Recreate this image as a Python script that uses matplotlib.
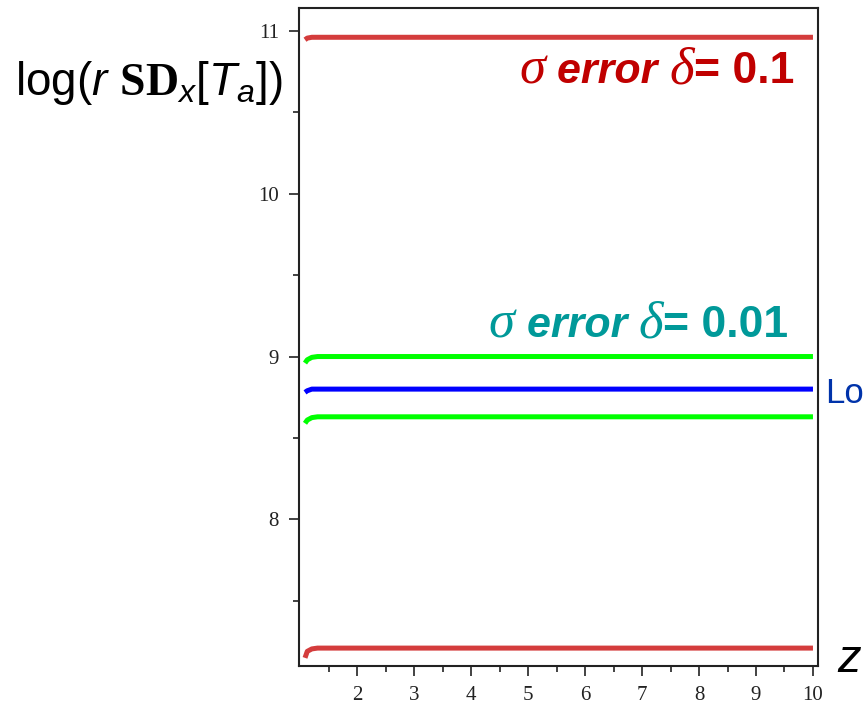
import matplotlib
matplotlib.use("Agg")
import matplotlib.pyplot as plt
from matplotlib.ticker import FixedLocator
from matplotlib.offsetbox import TextArea, HPacker, AnnotationBbox

# mathtext fonts for the y label
plt.rcParams['mathtext.fontset'] = 'custom'
plt.rcParams['mathtext.rm'] = 'Liberation Sans'
plt.rcParams['mathtext.it'] = 'Liberation Sans:italic'
plt.rcParams['mathtext.bf'] = 'Liberation Serif:bold'

# data
z = [1.08, 1.12, 1.2, 1.3, 10.0]
red_high = [10.945, 10.955, 10.96, 10.96, 10.96]
green_high = [8.96, 8.98, 8.995, 9.0, 9.0]
blue_mid = [8.78, 8.79, 8.80, 8.80, 8.80]
green_low = [8.59, 8.61, 8.625, 8.63, 8.63]
red_low = [7.15, 7.19, 7.205, 7.21, 7.21]

x_ticks = [2, 3, 4, 5, 6, 7, 8, 9, 10]
x_minor = [1.5, 2.5, 3.5, 4.5, 5.5, 6.5, 7.5, 8.5, 9.5]
y_ticks = [8, 9, 10, 11]
y_minor = [7.5, 8.5, 9.5, 10.5]

fig = plt.figure(figsize=(8.68, 7.05), dpi=100)
ax = fig.add_axes([0.3445, 0.0553, 0.598, 0.9334])

red = '#d43c3c'
green = '#00ff00'
blue = '#0000ff'
ax.plot(z, red_high, color=red, lw=3.6, solid_capstyle='butt')
ax.plot(z, green_high, color=green, lw=3.6, solid_capstyle='butt')
ax.plot(z, blue_mid, color=blue, lw=3.6, solid_capstyle='butt')
ax.plot(z, green_low, color=green, lw=3.6, solid_capstyle='butt')
ax.plot(z, red_low, color=red, lw=3.6, solid_capstyle='butt')

ax.set_xlim(0.975, 10.09)
ax.set_ylim(7.10, 11.14)
ax.set_xticks(x_ticks)
ax.set_yticks(y_ticks)
ax.xaxis.set_minor_locator(FixedLocator(x_minor))
ax.yaxis.set_minor_locator(FixedLocator(y_minor))
ax.tick_params(which='major', direction='out', length=7.5, width=1.2,
               labelsize=15, pad=7, colors='#222222')
ax.tick_params(which='minor', direction='out', length=4.5, width=1.2,
               colors='#222222')
for lab in ax.get_xticklabels() + ax.get_yticklabels():
    lab.set_fontfamily('Liberation Serif')
for sp in ax.spines.values():
    sp.set_linewidth(1.5)
    sp.set_color('#222222')


def label(parts, color, xy):
    boxes = [TextArea(t, textprops=dict(color=color, size=sz, family=fam,
                                        style=st, weight=wt))
             for t, sz, fam, st, wt in parts]
    pack = HPacker(children=boxes, align='baseline', pad=0, sep=0)
    ab = AnnotationBbox(pack, xy, xycoords='axes fraction', frameon=False,
                        box_alignment=(1, 0), pad=0)
    ax.add_artist(ab)


label([('σ', 38, 'Liberation Serif', 'italic', 'normal'),
       (' error ', 31, 'Liberation Sans', 'italic', 'bold'),
       ('δ', 38, 'Liberation Serif', 'italic', 'normal'),
       ('= 0.1', 32, 'Liberation Sans', 'normal', 'bold')], '#c00000', (0.955, 0.869))

label([('σ', 38, 'Liberation Serif', 'italic', 'normal'),
       (' error ', 31, 'Liberation Sans', 'italic', 'bold'),
       ('δ', 38, 'Liberation Serif', 'italic', 'normal'),
       ('= 0.01', 32, 'Liberation Sans', 'normal', 'bold')], '#009999', (0.943, 0.483))

fig.text(0.017, 0.865, r'$\mathrm{log}\left(r\ \mathbf{SD}_{x}[T_{a}]\right)$',
         fontsize=33, color='black', ha='left', va='baseline')
fig.text(0.951, 0.428, 'Lo', fontsize=25, color='#0033aa',
         family='Liberation Sans', ha='left', va='baseline')
fig.text(0.965, 0.047, 'z', fontsize=34, style='italic',
         family='Liberation Sans', ha='left', va='baseline')

fig.savefig('out.png', dpi=100)
